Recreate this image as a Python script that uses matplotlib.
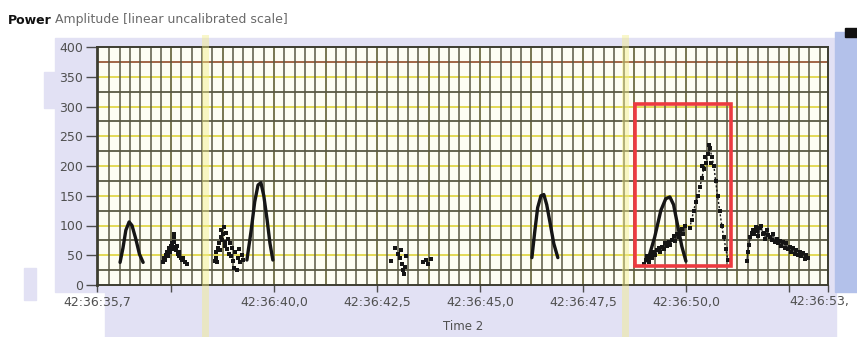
import numpy as np
import matplotlib.pyplot as plt
from matplotlib.patches import Rectangle

# ---- data (seconds within minute 42:36) ----
peak1_t = [36.26, 36.33, 36.40, 36.48, 36.55, 36.64, 36.73, 36.82]
peak1_v = [38, 62, 92, 106, 100, 78, 52, 38]

burst2_t = [37.30, 37.33, 37.36, 37.38, 37.40, 37.42, 37.44, 37.46, 37.48, 37.50, 37.52, 37.54, 37.56,
            37.58, 37.60, 37.62, 37.64, 37.66, 37.68, 37.70, 37.73, 37.76, 37.80, 37.84, 37.88, 37.57]
burst2_v = [38, 45, 42, 50, 55, 48, 58, 62, 55, 66, 70, 60, 80, 72, 64, 58, 66, 52, 48, 55, 46, 42, 45, 38, 36, 86]

burst3_t = [38.56, 38.58, 38.60, 38.62, 38.64, 38.66, 38.68, 38.70, 38.72, 38.74, 38.76, 38.78, 38.80, 38.82,
            38.84, 38.86, 38.88, 38.90, 38.92, 38.95, 38.98, 39.00, 39.03, 39.06, 39.09, 39.12, 39.15, 39.18,
            39.21, 39.24]
burst3_v = [40, 45, 55, 38, 62, 70, 58, 80, 92, 75, 85, 98, 72, 66, 88, 60, 78, 52, 70, 48, 62, 40, 28, 55,
            25, 45, 60, 38, 50, 42]

peak4_t = [39.34, 39.44, 39.53, 39.61, 39.68, 39.75, 39.83, 39.90, 39.97]
peak4_v = [42, 90, 140, 168, 172, 150, 110, 70, 42]

burst5_t = [42.85, 42.93, 43.02, 43.05, 43.08, 43.10, 43.12, 43.15, 43.18, 43.20, 43.62, 43.68, 43.74, 43.80]
burst5_v = [40, 62, 52, 45, 58, 35, 25, 18, 30, 48, 38, 42, 36, 44]

peak6_t = [46.26, 46.33, 46.40, 46.48, 46.55, 46.62, 46.70, 46.79, 46.89]
peak6_v = [46, 90, 130, 150, 152, 135, 105, 70, 46]

peak7_t = [49.07, 49.24, 49.39, 49.51, 49.61, 49.70, 49.80, 49.90, 50.00]
peak7_v = [40, 80, 125, 145, 148, 135, 100, 65, 40]

ramp7_t = [48.98, 49.02, 49.06, 49.10, 49.14, 49.18, 49.22, 49.26, 49.30, 49.34, 49.38, 49.42, 49.46,
           49.50, 49.54, 49.58, 49.62, 49.66, 49.70, 49.74, 49.78, 49.82, 49.86, 49.90, 49.94, 49.98]
ramp7_v = [35, 42, 48, 38, 52, 46, 56, 50, 58, 62, 55, 64, 60, 70, 66, 72, 68, 76, 82, 74, 86, 80, 90, 94,
           85, 100]

tall7_t = [50.09, 50.14, 50.19, 50.24, 50.30, 50.34, 50.39, 50.43, 50.48, 50.53, 50.58, 50.63, 50.68,
           50.72, 50.77, 50.82, 50.87, 50.92, 50.97, 51.02, 50.40, 50.46, 50.55, 50.60]
tall7_v = [95, 110, 125, 140, 150, 165, 180, 195, 205, 220, 230, 215, 200, 175, 150, 125, 100, 80, 60, 42,
           200, 215, 236, 205]

burst8_t = [51.48, 51.50, 51.53, 51.56, 51.60, 51.63, 51.66, 51.70, 51.73, 51.76, 51.80, 51.83, 51.86,
            51.90, 51.93, 51.96, 52.00, 52.04, 52.08, 52.12, 52.16, 52.20, 52.24, 52.28, 52.32, 52.36,
            52.40, 52.44, 52.48, 52.52, 52.56, 52.60, 52.64, 52.68, 52.72, 52.76, 52.80, 52.84, 52.88,
            52.92, 52.96]
burst8_v = [40, 55, 68, 80, 88, 92, 85, 98, 90, 82, 95, 100, 86, 88, 78, 92, 84, 80, 76, 86, 72, 78, 70,
            74, 66, 72, 62, 70, 60, 64, 56, 62, 52, 58, 50, 56, 48, 54, 44, 50, 46]

# highlighted region (t0, v0, width, height)
box = (48.76, 32, 2.33, 273)

xticks = [35.7, 37.5, 40.0, 42.5, 45.0, 47.5, 50.0, 52.5, 53.45]
xticklabels = ["42:36:35,7", "", "42:36:40,0", "42:36:42,5", "42:36:45,0", "42:36:47,5",
               "42:36:50,0", "", ""]
end_label = "42:36:53,"
yticks = [0, 50, 100, 150, 200, 250, 300, 350, 400]

W, H = 857, 337


def px(x0, y0, x1, y1):
    """pixel box -> figure-fraction rectangle args"""
    return (x0 / W, 1 - y1 / H), (x1 - x0) / W, (y1 - y0) / H


fig = plt.figure(figsize=(W / 100, H / 100), dpi=100)
fig.patch.set_facecolor("white")

# lavender panel behind the graph
lav = "#e2e1f4"
for b in [px(55, 38, 836, 292), px(105, 292, 836, 337), px(44, 72, 56, 108), px(24, 268, 36, 300)]:
    fig.patches.append(Rectangle(*b, transform=fig.transFigure, color=lav, zorder=-5))
# right edge: bluish band
fig.patches.append(Rectangle(*px(835, 32, 857, 292), transform=fig.transFigure, color="#b3c1ea", zorder=3))
fig.patches.append(Rectangle(*px(845, 28, 857, 37), transform=fig.transFigure, color="#111111", zorder=3))

ax = fig.add_axes([97 / W, 1 - 285 / H, (828 - 97) / W, (285 - 47) / H])
ax.set_facecolor("#fdfdf3")
ax.set_xlim(35.7, 53.45)
ax.set_ylim(0, 400)

# yellow grid on the major divisions
for v in yticks[1:-1]:
    ax.axhline(v, color="#e3da55", lw=1.4, zorder=1)
for t in np.arange(37.5, 53.4, 1.25):
    ax.axvline(t, color="#ebe478", lw=1.2, zorder=1)

# dark mesh
mesh = "#595843"
for v in np.arange(25, 400, 50):
    ax.axhline(v, color="#9a5a38" if v == 375 else mesh, lw=1.3, zorder=2)
for t in np.arange(36.0, 53.4, 0.25):
    ax.axvline(t, color=mesh, lw=1.1, zorder=2)

# traces
ink = "#151515"
for t, v in [(peak1_t, peak1_v), (peak4_t, peak4_v), (peak6_t, peak6_v), (peak7_t, peak7_v)]:
    ax.plot(t, v, color=ink, lw=2.4, solid_capstyle="round", zorder=5)
for t, v in [(burst2_t, burst2_v), (burst3_t, burst3_v), (burst5_t, burst5_v),
             (ramp7_t, ramp7_v), (tall7_t, tall7_v), (burst8_t, burst8_v)]:
    ax.scatter(t, v, s=9, color=ink, marker="s", lw=0, zorder=5)
ax.plot(ramp7_t, ramp7_v, color=ink, lw=1.2, alpha=0.8, zorder=5)
ax.plot(tall7_t[:20], tall7_v[:20], color=ink, lw=1.0, ls=(0, (1.5, 1.5)), zorder=5)
ax.plot(burst8_t, burst8_v, color=ink, lw=1.0, alpha=0.8, zorder=5)

ax.add_patch(Rectangle(box[:2], box[2], box[3], fill=False, ec="#ec3a3f", lw=2.6, zorder=6))

for s in ax.spines.values():
    s.set_color("#3d3d30")
    s.set_linewidth(1.4)
ax.spines["left"].set_linewidth(2)

ax.set_xticks(xticks)
ax.set_xticklabels(xticklabels)
ax.set_yticks(yticks)
ax.tick_params(axis="both", colors="#4c4c4c", labelsize=9, length=5, width=1, pad=3)
ax.tick_params(axis="y", length=8, pad=2)
for lab in ax.get_xticklabels() + ax.get_yticklabels():
    lab.set_color("#505050")

# last time label sits flush against the right edge
fig.text(789 / W, 1 - 302 / H, end_label, fontsize=9, color="#505050", va="center", zorder=6)

fig.text(8 / W, 1 - 20 / H, "Power", fontsize=9, fontweight="bold", color="#111111", va="center")
fig.text(55 / W, 1 - 20 / H, "Amplitude [linear uncalibrated scale]", fontsize=9, color="#6a6a6a",
         va="center")
fig.text(463 / W, 1 - 326 / H, "Time 2", fontsize=8.5, color="#505050", ha="center", va="center")

# scanner streaks
for x in (205, 625):
    fig.lines.append(plt.Line2D([x / W, x / W], [1 - 337 / H, 1 - 38 / H], transform=fig.transFigure,
                                color="#f3ee88", lw=5, alpha=0.45, zorder=4))

fig.savefig("out.png", dpi=100)
